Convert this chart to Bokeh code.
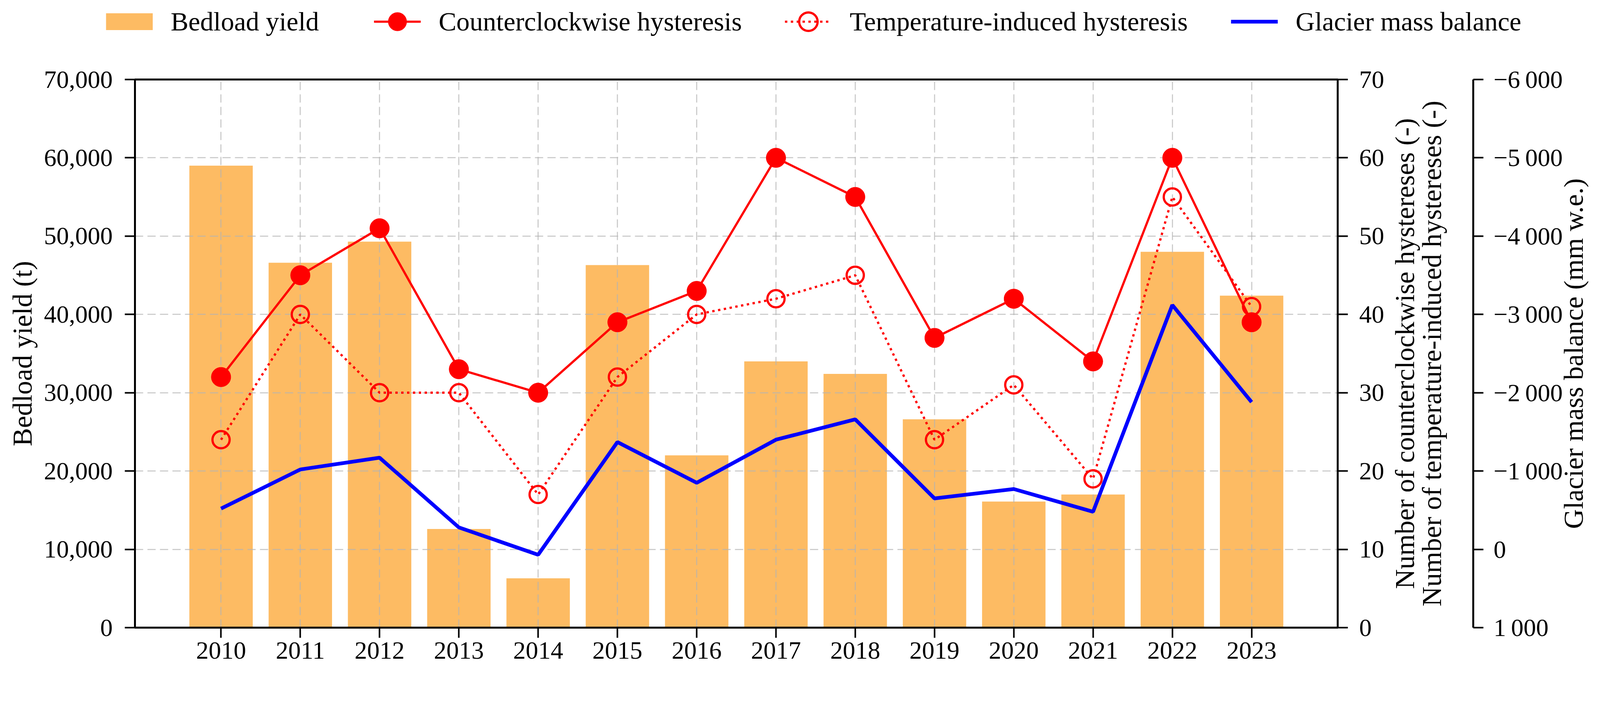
import math
from bokeh.plotting import figure
from bokeh.layouts import column
from bokeh.models import (Range1d, LinearAxis, FixedTicker, NumeralTickFormatter,
                          Legend, LegendItem, Label)
from bokeh.embed import file_html
from bokeh.resources import INLINE

# ---------------- data ----------------
years = list(range(2010, 2024))
bedload_yield = [59000, 46600, 49300, 12600, 6300, 46300, 22000,
                 34000, 32400, 26600, 16100, 17000, 48000, 42400]
ccw_hysteresis = [32, 45, 51, 33, 30, 39, 43, 60, 55, 37, 42, 34, 60, 39]
temp_hysteresis = [24, 40, 30, 30, 17, 32, 40, 42, 45, 24, 31, 19, 55, 41]
mass_balance = [-520, -1020, -1170, -280, 70, -1370, -850,
                -1400, -1660, -650, -770, -480, -3120, -1880]

left_ticks = list(range(0, 70001, 10000))
count_ticks = list(range(0, 71, 10))
mb_ticks = list(range(-6000, 1001, 1000))

labels = ["Bedload yield", "Counterclockwise hysteresis",
          "Temperature-induced hysteresis", "Glacier mass balance"]
count_label_1 = "Number of counterclockwise hystereses (-)"
count_label_2 = "Number of temperature-induced hystereses (-)"
mb_label = "Glacier mass balance (mm w.e.)"
left_label = "Bedload yield (t)"

# ---------------- style ----------------
FONT = "Liberation Serif"
FS = "64px"        # tick labels
FS_T = "70px"      # axis titles
FS_L = "68px"      # legend
BAR = "#FDBB63"
RED = "#FF0000"
BLUE = "#0000FF"
W = 4080
H_LEG = 130
H = 1721 - H_LEG
ML, MR, MT, MB = 345, 652, 73, 115
FRAME_W = W - ML - MR
X0, X1 = 2008.914, 2024.086
PX_PER_YEAR = FRAME_W / (X1 - X0)
TICK = 26

# ================= main chart =================
p = figure(width=W, height=H, output_backend="svg", toolbar_location=None,
           x_range=Range1d(X0, X1), y_range=Range1d(0, 70000),
           min_border_left=ML, min_border_right=MR, min_border_top=MT,
           min_border_bottom=MB)
p.frame_align = False
p.extra_y_ranges = {"count": Range1d(0, 70), "mb": Range1d(1000, -6000)}
p.outline_line_color = "black"
p.outline_line_width = 5
p.background_fill_color = "white"


def style_axis(ax):
    ax.axis_line_width = 5
    ax.axis_line_color = "black"
    ax.major_tick_line_width = 4
    ax.major_tick_line_color = "black"
    ax.major_tick_out = TICK
    ax.major_tick_in = 0
    ax.minor_tick_out = 0
    ax.minor_tick_in = 0
    ax.minor_tick_line_color = None
    ax.major_label_text_font = FONT
    ax.major_label_text_font_size = FS
    ax.major_label_text_color = "black"
    ax.axis_label_text_font = FONT
    ax.axis_label_text_font_size = FS_T
    ax.axis_label_text_font_style = "normal"
    ax.axis_label_text_color = "black"


# x axis
xa = p.xaxis[0]
style_axis(xa)
xa.ticker = FixedTicker(ticks=years)
xa.major_label_standoff = 11

# left axis
ya = p.yaxis[0]
style_axis(ya)
ya.ticker = FixedTicker(ticks=left_ticks)
ya.formatter = NumeralTickFormatter(format="0,0")
ya.axis_label = left_label
ya.major_label_standoff = 31
ya.axis_label_standoff = 14

# grids
p.xgrid.ticker = FixedTicker(ticks=years)
p.ygrid.ticker = FixedTicker(ticks=left_ticks)
p.grid.grid_line_color = "#b4b4b4"
p.grid.grid_line_alpha = 0.65
p.grid.grid_line_width = 3
p.grid.grid_line_dash = "21 11"
p.grid.level = "underlay"


def side_title(txt, dx, size=FS_T):
    # rotated title (reading bottom-to-top) placed in the right panel
    return Label(x=X1 + dx / PX_PER_YEAR, y=35, x_units="data", y_units="data",
                 y_range_name="count", text=txt, angle=math.pi / 2,
                 text_align="center", text_baseline="middle",
                 text_font=FONT, text_font_size=size, text_color="black")


# right axis: counts
ax_count = LinearAxis(y_range_name="count", ticker=FixedTicker(ticks=count_ticks))
style_axis(ax_count)
ax_count.major_label_standoff = 29
p.add_layout(ax_count, "right")

p.add_layout(side_title(count_label_1, 172), "right")
p.add_layout(side_title(count_label_2, 241), "right")
p.add_layout(side_title(" ", 290, size="64px"), "right")  # blank: room before 3rd axis

# right axis: mass balance
mb_over = {float(t): ("{:,}".format(t).replace(",", "\u2009").replace("-", "\u2212"))
           for t in mb_ticks}
ax_mb = LinearAxis(y_range_name="mb", ticker=FixedTicker(ticks=mb_ticks),
                   major_label_overrides=mb_over)
style_axis(ax_mb)
ax_mb.major_label_standoff = 26
p.add_layout(ax_mb, "right")

p.add_layout(side_title(mb_label, 605), "right")

# glyphs
p.vbar(x=years, top=bedload_yield, width=0.8, fill_color=BAR,
       line_color=None, level="image")
p.line(years, ccw_hysteresis, y_range_name="count", line_color=RED, line_width=5.7)
p.scatter(years, ccw_hysteresis, y_range_name="count", marker="circle",
          size=50, fill_color=RED, line_color=RED, line_width=1)
p.line(years, temp_hysteresis, y_range_name="count",
       line_color=RED, line_width=5.7, line_dash="6 9")
p.scatter(years, temp_hysteresis, y_range_name="count", marker="circle",
          size=44, fill_color=None, line_color=RED, line_width=5.7)
p.line(years, mass_balance, y_range_name="mb", line_color=BLUE, line_width=9.5)

# ================= legend strip =================
# Same series, drawn outside this strip's visible range; only the legend shows.
q = figure(width=W, height=H_LEG, output_backend="svg", toolbar_location=None,
           x_range=Range1d(0, 1), y_range=Range1d(0, 1),
           x_axis_type=None, y_axis_type=None,
           min_border_left=0, min_border_right=0, min_border_top=0,
           min_border_bottom=0)
q.frame_align = False
q.outline_line_color = None
q.background_fill_color = "white"

k_bar = q.line(years, bedload_yield, line_color=BAR, line_width=43)
k_ccw_l = q.line(years, ccw_hysteresis, line_color=RED, line_width=5.7)
k_ccw_p = q.scatter(years, ccw_hysteresis, marker="circle", size=50,
                    fill_color=RED, line_color=RED, line_width=1)
k_tmp_l = q.line(years, temp_hysteresis, line_color=RED, line_width=5.7,
                 line_dash="6 9")
k_tmp_p = q.scatter(years, temp_hysteresis, marker="circle", size=44,
                    fill_color=None, line_color=RED, line_width=5.7)
k_mb = q.line(years, mass_balance, line_color=BLUE, line_width=9.5)

legend = Legend(items=[
    LegendItem(label=labels[0], renderers=[k_bar]),
    LegendItem(label=labels[1], renderers=[k_ccw_l, k_ccw_p]),
    LegendItem(label=labels[2], renderers=[k_tmp_l, k_tmp_p]),
    LegendItem(label=labels[3], renderers=[k_mb]),
], orientation="horizontal", location=(271, 16),
    glyph_width=120, glyph_height=118, label_standoff=46, spacing=110,
    label_width=410,
    padding=0, margin=0, border_line_color=None, background_fill_alpha=0,
    label_text_font=FONT, label_text_font_size=FS_L, label_text_color="black")
q.add_layout(legend)

layout = column(q, p, spacing=0)
open("out.html", "w").write(file_html(layout, INLINE))
